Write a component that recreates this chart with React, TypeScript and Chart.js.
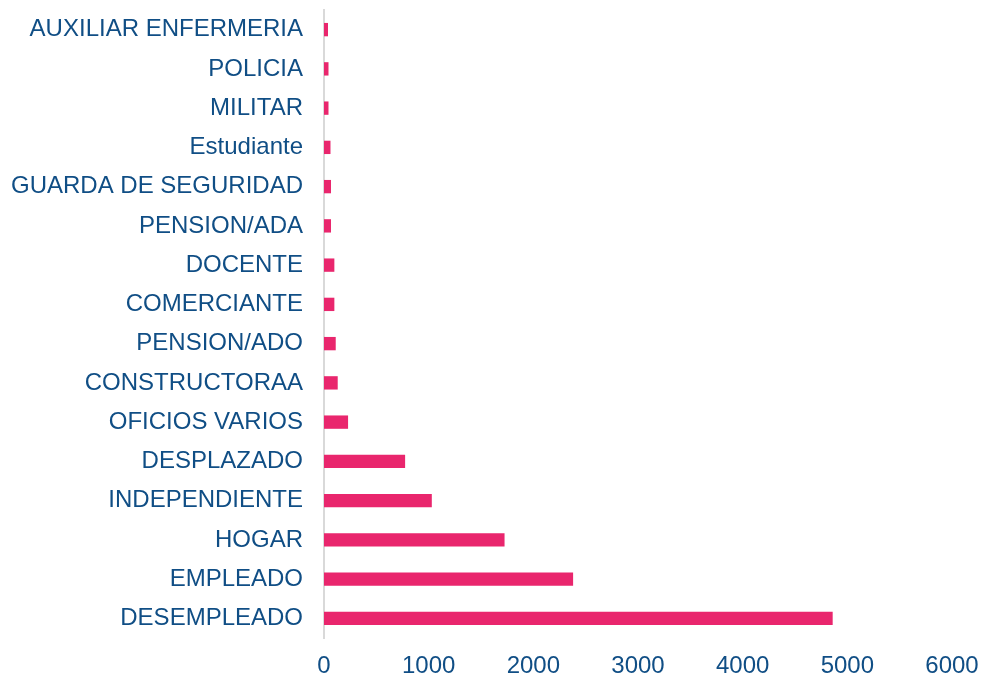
import React, { useEffect, useRef } from "react";
import { Chart, registerables } from "chart.js";

Chart.register(...registerables);

const categories = [
  "AUXILIAR ENFERMERIA",
  "POLICIA",
  "MILITAR",
  "Estudiante",
  "GUARDA DE SEGURIDAD",
  "PENSION/ADA",
  "DOCENTE",
  "COMERCIANTE",
  "PENSION/ADO",
  "CONSTRUCTORAA",
  "OFICIOS VARIOS",
  "DESPLAZADO",
  "INDEPENDIENTE",
  "HOGAR",
  "EMPLEADO",
  "DESEMPLEADO",
];

const values = [38, 43, 43, 62, 67, 67, 99, 99, 112, 131, 230, 775, 1030, 1725, 2380, 4860];

const xTicks = [0, 1000, 2000, 3000, 4000, 5000, 6000];

const textColor = "#104E85";
const barColor = "#E9266D";
const font = { family: "'Liberation Sans', Arial, sans-serif", size: 24 };

export default function App() {
  const ref = useRef<HTMLCanvasElement | null>(null);

  useEffect(() => {
    if (!ref.current) return;
    const chart = new Chart(ref.current, {
      type: "bar",
      data: {
        labels: categories,
        datasets: [
          {
            data: values,
            backgroundColor: barColor,
            borderWidth: 0,
            categoryPercentage: 1,
            barPercentage: 0.34,
          },
        ],
      },
      options: {
        indexAxis: "y",
        animation: false,
        responsive: false,
        maintainAspectRatio: false,
        layout: { padding: { top: 10, right: 33, bottom: 0, left: 0 } },
        plugins: { legend: { display: false }, tooltip: { enabled: false } },
        scales: {
          x: {
            min: xTicks[0],
            max: xTicks[xTicks.length - 1],
            afterBuildTicks: (scale: any) => {
              scale.ticks = xTicks.map((v) => ({ value: v }));
            },
            afterFit: (scale: any) => {
              scale.height = 41;
              scale.paddingLeft = 0;
              scale.paddingRight = 0;
            },
            grid: { display: false, drawTicks: false },
            border: { display: false },
            ticks: {
              color: textColor,
              font,
              padding: 14,
              maxRotation: 0,
              callback: (v: any) => String(v),
            },
          },
          y: {
            afterFit: (scale: any) => {
              scale.width = 324;
              scale.paddingTop = 0;
              scale.paddingBottom = 0;
            },
            grid: { display: false, drawTicks: false },
            border: { display: true, color: "#D9D9D9", width: 2 },
            ticks: { color: textColor, font, padding: 21, autoSkip: false },
          },
        },
      },
    });
    return () => chart.destroy();
  }, []);

  return (
    <div style={{ position: "absolute", left: 0, top: 0, width: 985, height: 679, background: "#fff" }}>
      <canvas ref={ref} width={985} height={679} style={{ width: 985, height: 679 }} />
    </div>
  );
}
